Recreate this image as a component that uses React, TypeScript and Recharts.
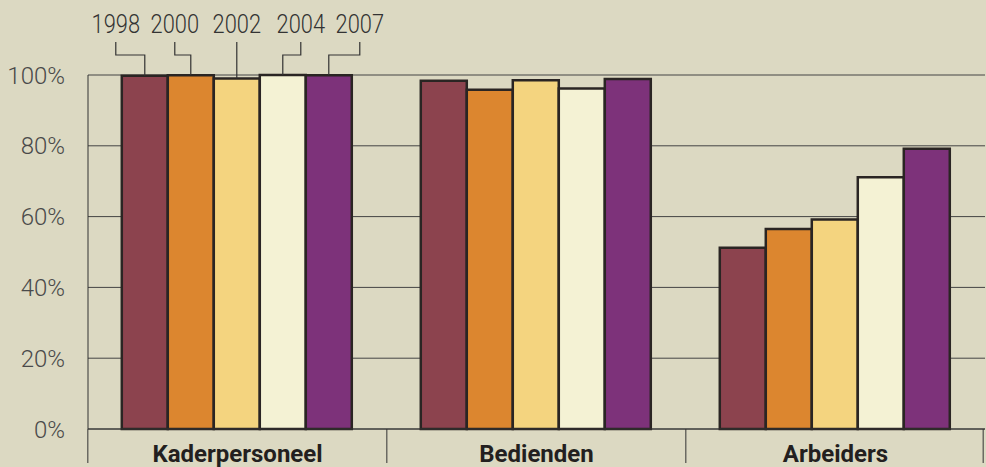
import { Bar, BarChart, CartesianGrid, LabelList, XAxis, YAxis } from "recharts";

const categories = ["Kaderpersoneel", "Bedienden", "Arbeiders"];
const years = ["1998", "2000", "2002", "2004", "2007"];
const values1998 = [99.8, 98.4, 51.2];
const values2000 = [99.9, 95.8, 56.5];
const values2002 = [99.0, 98.5, 59.2];
const values2004 = [100, 96.2, 71.1];
const values2007 = [99.9, 98.9, 79.2];
const yTicks = [0, 20, 40, 60, 80, 100];

const series = [values1998, values2000, values2002, values2004, values2007];
const colors = ["#8C434E", "#DC862F", "#F4D47F", "#F4F2D4", "#7D327A"];
// horizontal shift of each year label relative to its bar
const labelShift = [-29, -16, 0, 18, 31];

const data = categories.map((name, i) => {
    const row: Record<string, string | number> = { name };
    years.forEach((y, s) => { row[y] = series[s][i]; });
    return row;
});

const W = 986;
const H = 467;
const LEFT = 88;
const band = (W - LEFT) / categories.length;
const FONT = "'Roboto', sans-serif";

function CategoryTick(props: any) {
    const { x, y, payload, index } = props;
    return (
        <g>
            <line x1={x - band / 2} y1={y - 8} x2={x - band / 2} y2={y + 26} stroke="#333" strokeWidth={1} />
            {index === categories.length - 1 && (
                <line x1={x + band / 2 - 2} y1={y - 8} x2={x + band / 2 - 2} y2={y + 26} stroke="#333" strokeWidth={1} />
            )}
            <text x={x} y={y + 25} textAnchor="middle" fontFamily={FONT} fontWeight={700} fontSize={24} fill="#231f20">
                {payload.value}
            </text>
        </g>
    );
}

function yearLabel(s: number) {
    return (props: any) => {
        const { x, y, width, index } = props;
        if (index !== 0) return null;
        const cx = x + width / 2;
        const lx = cx + labelShift[s];
        const path = labelShift[s] === 0
            ? `M${lx},42 L${lx},${y}`
            : `M${lx},42 L${lx},55 L${cx},55 L${cx},${y}`;
        return (
            <g>
                <path d={path} fill="none" stroke="#333" strokeWidth={1.2} />
                <text
                    transform={`translate(${lx},33) scale(0.84,1)`}
                    textAnchor="middle"
                    fontFamily={FONT}
                    fontWeight={300}
                    fontSize={26}
                    fill="#333"
                >
                    {years[s]}
                </text>
            </g>
        );
    };
}

export default function App() {
    return (
        <div style={{ position: "absolute", left: 0, top: 0, width: W, height: H, background: "#DCD9C2" }}>
            <BarChart
                width={W}
                height={H}
                data={data}
                margin={{ top: 75, right: 1, bottom: 0, left: 0 }}
                barCategoryGap="11.3%"
                barGap={0}
            >
                <CartesianGrid horizontal vertical={false} stroke="#444" strokeWidth={1} />
                <XAxis
                    dataKey="name"
                    height={38}
                    axisLine={{ stroke: "#333" }}
                    tickLine={false}
                    tick={<CategoryTick />}
                    interval={0}
                />
                <YAxis
                    width={LEFT}
                    domain={[0, 100]}
                    ticks={yTicks}
                    axisLine={{ stroke: "#333" }}
                    tickLine={false}
                    tickMargin={17}
                    tickFormatter={(v: number) => `${v}%`}
                    tick={{ fontFamily: FONT, fontSize: 24, fill: "#4a4a4a", fontWeight: 300 }}
                />
                {years.map((y, s) => (
                    <Bar key={y} dataKey={y} fill={colors[s]} stroke="#2a2523" strokeWidth={2.5} isAnimationActive={false}>
                        <LabelList dataKey={y} content={yearLabel(s)} />
                    </Bar>
                ))}
            </BarChart>
        </div>
    );
}
